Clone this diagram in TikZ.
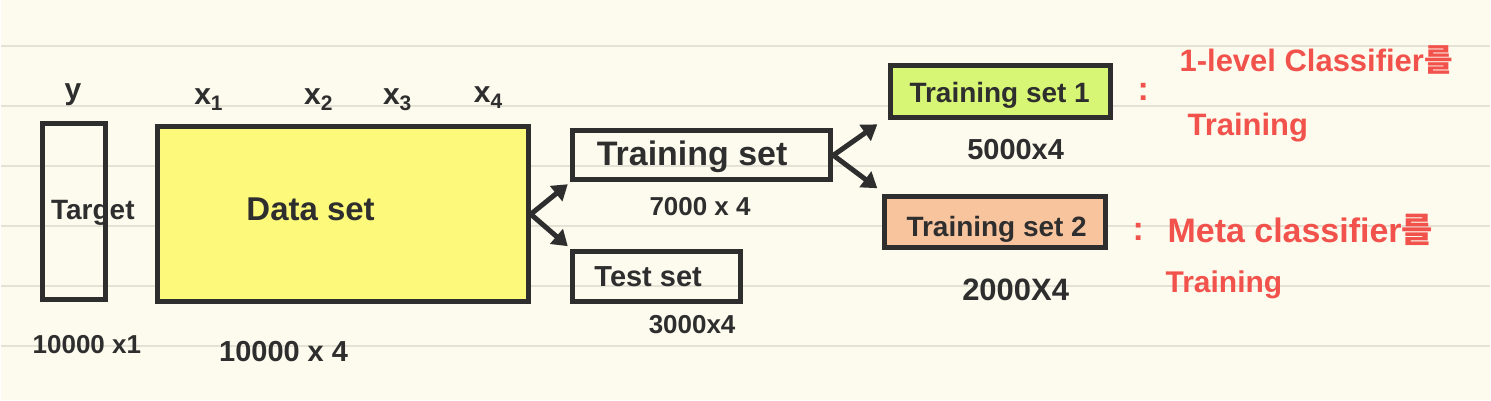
\documentclass[tikz,border=0pt]{standalone}
\usepackage{fontspec}
\setmainfont{Liberation Sans}
\newfontfamily\kr{Noto Sans CJK KR Bold}
\usetikzlibrary{arrows.meta}
\definecolor{paper}{HTML}{FDFBEE}
\definecolor{ruling}{HTML}{E4E1D5}
\definecolor{ink}{HTML}{2E2E2E}
\definecolor{pen}{HTML}{F2524C}
\definecolor{marker}{HTML}{FDF97A}
\definecolor{lime}{HTML}{D8F676}
\definecolor{peach}{HTML}{F8C49E}
\newcommand{\sz}[1]{\fontsize{#1}{#1}\selectfont\bfseries}
\begin{document}
\begin{tikzpicture}[x=1pt,y=-1pt,
    box/.style={draw=ink, line width=5pt, inner sep=0pt},
    lbl/.style={text=ink, inner sep=0pt},
    note/.style={text=pen, inner sep=0pt, anchor=west},
    arr/.style={draw=ink, line width=5pt, -{Triangle[length=15pt,width=19pt]}}]
                    \fill[paper] (0,0) rectangle (1491,401);
                    \foreach \y in {46,106,166,226,286,346}
                        \draw[ruling, line width=2pt] (0,\y) -- (1491,\y);

                    \node[box, minimum width=63pt, minimum height=176pt] (target) at (73.5,212) {};
                    \node[box, fill=marker, minimum width=371pt, minimum height=175pt] (data) at (342.5,214.5) {};
                    \node[box, minimum width=259pt, minimum height=49pt] (train) at (701.5,155.5) {};
                    \node[box, minimum width=168pt, minimum height=50pt] (test) at (656,277) {};
                    \node[box, fill=lime, minimum width=220pt, minimum height=52pt] (trainone) at (1001,92) {};
                    \node[box, fill=peach, minimum width=221pt, minimum height=51pt] (traintwo) at (995.5,222.5) {};

                    \node[lbl] (targettext) at (92,213) {\sz{28}Target};
                    \node[lbl] (datatext) at (310,210) {\sz{33}Data set};
                    \node[lbl] (traintext) at (692,157) {\sz{34}Training set};
                    \node[lbl] (testtext) at (648,277) {\sz{29}Test set};
                    \node[lbl] (traintext1) at (1000,95) {\sz{28}Training set 1};
                    \node[lbl] (traintext2) at (997,230) {\sz{28}Training set 2};

                    \node[lbl] (ylab) at (72,95) {\sz{30}y};
                    \node[lbl] (xone) at (208,100) {\sz{30}x\textsubscript{1}};
                    \node[lbl] (xtwo) at (318,100) {\sz{30}x\textsubscript{2}};
                    \node[lbl] (xthree) at (397,100) {\sz{30}x\textsubscript{3}};
                    \node[lbl] (xfour) at (488,98) {\sz{30}x\textsubscript{4}};

                    \node[lbl] (targetdim) at (86,345) {\sz{26}10000 x1};
                    \node[lbl] (datadim) at (283,352) {\sz{29}10000 x 4};
                    \node[lbl] (traindim) at (700,207) {\sz{26}7000 x 4};
                    \node[lbl] (testdim) at (692,325) {\sz{26}3000x4};
                    \node[lbl] (onedim) at (1016,150) {\sz{29}5000x4};
                    \node[lbl] (twodim) at (1016,290) {\sz{31}2000X4};

                    \draw[arr] (data.east) -- ([xshift=-2pt,yshift=-2pt]train.south west);
                    \draw[arr] (data.east) -- ([xshift=-2pt,yshift=3pt]test.north west);
                    \draw[arr] (train.east) -- ([xshift=-11pt,yshift=-4pt]trainone.south west);
                    \draw[arr] (train.east) -- ([xshift=-5pt,yshift=6pt]traintwo.north west);

                    \node[note] (colonone) at (1138,92) {\sz{34}:};
                    \node[note] (noteone) at (1180,60) {\sz{31}1-level Classifier{\kr 를}};
                    \node[note] (noteonet) at (1188,128) {\sz{31}Training};
                    \node[note] (colontwo) at (1133,232) {\sz{34}:};
                    \node[note] (notetwo) at (1168,230) {\sz{34}Meta classifier{\kr 를}};
                    \node[note] (notetwot) at (1166,285) {\sz{30}Training};
                \end{tikzpicture}
\end{document}
